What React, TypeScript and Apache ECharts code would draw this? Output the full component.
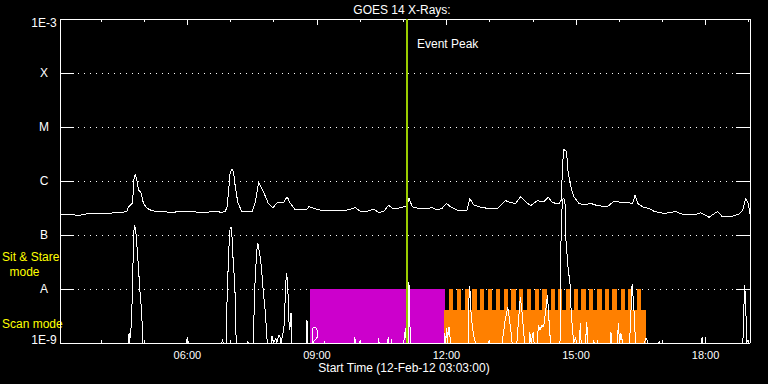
import React, { useEffect, useRef } from 'react';
import * as echarts from 'echarts';

// ---- Data ----
const START_HOUR = 3.05; // 03:03
const END_HOUR = 19.03;
const majorHours = [6, 9, 12, 15, 18];
const minorHours = [4, 5, 6, 7, 8, 9, 10, 11, 12, 13, 14, 15, 16, 17, 18, 19];
const yTickLabels = ['1E-9', 'A', 'B', 'C', 'M', 'X', '1E-3'];
const Y_MIN = 1e-9;
const Y_MAX = 1e-3;

// GOES long channel (upper curve)
const longTimes = [3.07, 3.40, 3.47, 3.71, 4.09, 4.48, 4.60, 4.63, 4.73, 4.76, 4.79, 4.83, 4.87, 4.93, 4.98, 5.06, 5.18, 5.33, 5.64, 5.99,
  6.18, 6.41, 6.64, 6.80, 6.88, 6.92, 6.95, 6.99, 7.03, 7.07, 7.11, 7.17, 7.26, 7.50, 7.57, 7.65, 7.76, 7.87, 7.98, 8.07,
  8.23, 8.31, 8.38, 8.50, 8.62, 8.77, 8.81, 8.92, 9.08, 9.23, 9.47, 9.70, 9.89, 10.01, 10.16, 10.31, 10.43, 10.55, 10.66, 10.74,
  10.89, 11.09, 11.13, 11.21, 11.40, 11.67, 11.78, 11.90, 12.00, 12.09, 12.25, 12.48, 12.54, 12.63, 12.79, 12.94, 13.18, 13.28, 13.37, 13.48,
  13.60, 13.72, 13.83, 13.95, 14.10, 14.26, 14.36, 14.45, 14.60, 14.66, 14.69, 14.72, 14.78, 14.82, 14.88, 14.95, 15.07, 15.18, 15.34, 15.50,
  15.73, 15.88, 16.04, 16.23, 16.31, 16.37, 16.44, 16.58, 16.69, 16.81, 17.04, 17.31, 17.50, 17.74, 17.89, 18.08, 18.28, 18.39, 18.59, 18.78,
  18.86, 18.93, 18.99, 19.03];
const longFlux = [2.35e-7, 2.35e-7, 2.3e-7, 2.5e-7, 2.5e-7, 2.63e-7, 2.73e-7, 3.26e-7, 3.92e-7, 1.04e-6, 1.35e-6, 1.04e-6, 6.81e-7, 6.0e-7, 3.92e-7, 3.16e-7, 2.8e-7, 2.73e-7, 2.63e-7, 2.78e-7,
  2.67e-7, 2.63e-7, 2.73e-7, 2.63e-7, 2.78e-7, 3.34e-7, 6.0e-7, 1.41e-6, 1.67e-6, 1.49e-6, 7.74e-7, 3.92e-7, 2.73e-7, 2.73e-7, 3.92e-7, 9.6e-7, 6.34e-7, 3.92e-7, 3.16e-7, 3.92e-7,
  4.03e-7, 5.1e-7, 3.92e-7, 2.9e-7, 3.0e-7, 3.0e-7, 3.34e-7, 3.13e-7, 2.9e-7, 2.78e-7, 2.82e-7, 2.9e-7, 3.2e-7, 2.73e-7, 2.73e-7, 3.0e-7, 2.63e-7, 2.73e-7, 3.6e-7, 3.13e-7,
  3.13e-7, 3.44e-7, 4.78e-7, 3.34e-7, 3.03e-7, 3.2e-7, 2.9e-7, 3.13e-7, 3.85e-7, 3.34e-7, 2.9e-7, 2.9e-7, 4.78e-7, 3.6e-7, 3.26e-7, 3.13e-7, 3.03e-7, 3.75e-7, 4.32e-7, 4.0e-7,
  3.85e-7, 5.1e-7, 4.14e-7, 3.49e-7, 4.32e-7, 4.14e-7, 4.99e-7, 4.0e-7, 3.75e-7, 4.45e-7, 2.13e-6, 3.86e-6, 3.49e-6, 1.39e-6, 7.84e-7, 5.1e-7, 3.85e-7, 3.6e-7, 3.85e-7, 3.49e-7,
  3.34e-7, 4.26e-7, 4.0e-7, 4.0e-7, 3.75e-7, 5.5e-7, 3.75e-7, 3.2e-7, 3.13e-7, 2.73e-7, 2.5e-7, 2.73e-7, 2.35e-7, 2.35e-7, 2.58e-7, 2.13e-7, 2.73e-7, 2.18e-7, 2.2e-7, 2.45e-7,
  2.9e-7, 4.78e-7, 3.85e-7, 2.45e-7];

// GOES short channel (lower curve)
const shortTimes = [3.05, 4.63, 4.65, 4.66, 4.70, 4.73, 4.75, 4.77, 4.80, 4.83, 4.86, 4.90, 4.94, 4.96, 4.97, 5.98, 6.00, 6.02, 6.80, 6.81,
  6.83, 6.90, 6.91, 6.94, 6.97, 6.99, 7.01, 7.03, 7.05, 7.08, 7.11, 7.13, 7.38, 7.39, 7.41, 7.53, 7.54, 7.57, 7.61, 7.63,
  7.66, 7.68, 7.72, 7.76, 7.80, 7.82, 7.85, 7.95, 7.96, 7.99, 8.05, 8.07, 8.12, 8.15, 8.17, 8.22, 8.25, 8.27, 8.30, 8.32,
  8.34, 8.36, 8.38, 8.40, 8.42, 8.76, 8.77, 8.79, 8.90, 8.89, 8.91, 8.96, 9.02, 9.01, 8.96, 8.93, 8.92, 9.17, 9.18, 9.19,
  9.87, 9.88, 9.89, 9.99, 10.00, 10.01, 10.42, 10.43, 10.44, 10.64, 10.65, 10.66, 10.72, 10.73, 10.74, 11.01, 11.05, 11.07, 11.12, 11.13,
  11.15, 11.16, 11.95, 11.96, 11.98, 12.01, 12.02, 12.05, 12.07, 12.09, 12.51, 12.52, 12.54, 12.57, 12.60, 12.63, 12.67, 12.98, 12.99, 13.00,
  13.29, 13.36, 13.42, 13.46, 13.49, 13.52, 13.63, 13.67, 13.71, 13.75, 13.79, 13.81, 13.92, 13.93, 13.96, 14.01, 14.03, 14.10, 14.13, 14.17,
  14.21, 14.25, 14.31, 14.34, 14.37, 14.41, 14.63, 14.64, 14.66, 14.69, 14.72, 14.75, 14.76, 14.78, 14.82, 14.86, 14.89, 14.92, 14.95, 14.99,
  15.01, 15.08, 15.10, 15.12, 15.22, 15.25, 15.27, 15.40, 15.41, 15.42, 15.49, 15.50, 15.51, 15.80, 15.81, 15.82, 15.96, 15.98, 16.01, 16.04,
  16.08, 16.24, 16.26, 16.30, 16.34, 16.37, 16.39, 16.59, 16.61, 16.64, 16.66, 16.92, 16.93, 16.94, 17.91, 17.92, 17.93, 18.86, 18.88, 18.90,
  18.92, 18.94, 18.95, 18.99, 19.01, 19.03];
const shortFlux = [1e-9, 1e-9, 1.53e-9, 1e-9, 2.06e-9, 9.57e-9, 8.07e-8, 1.53e-7, 1.35e-7, 6.53e-8, 3.03e-8, 9.57e-9, 3.75e-9, 1.74e-9, 1e-9, 1e-9, 1.29e-9, 1e-9, 1e-9, 1.19e-9,
  1e-9, 1e-9, 3.6e-9, 1.98e-8, 8.07e-8, 1.35e-7, 1.41e-7, 1.09e-7, 4.64e-8, 1.98e-8, 6.81e-9, 1e-9, 1e-9, 1.09e-9, 1e-9, 1e-9, 2.67e-9, 1.6e-8, 5.28e-8, 7.11e-8,
  5.28e-8, 4.26e-8, 2.25e-8, 8.8e-9, 4.08e-9, 2.45e-9, 1e-9, 1e-9, 1.35e-9, 1e-9, 1.24e-9, 1e-9, 1.41e-9, 1.29e-9, 1e-9, 1.6e-9, 2.45e-9, 1.09e-8, 1.98e-8, 1.29e-8,
  5.5e-9, 1.74e-9, 2.06e-9, 3.6e-9, 1e-9, 1e-9, 2.67e-9, 1e-9, 1e-9, 1.41e-9, 1.9e-9, 1.98e-9, 1.67e-9, 1.29e-9, 1.14e-9, 1.1e-9, 1e-9, 1e-9, 1.07e-9, 1e-9,
  1e-9, 1.27e-9, 1e-9, 1e-9, 1.14e-9, 1e-9, 1e-9, 1.24e-9, 1e-9, 1e-9, 1.27e-9, 1e-9, 1e-9, 1.19e-9, 1e-9, 1e-9, 1.9e-9, 1e-9, 1e-9, 1.35e-8,
  6.25e-9, 1e-9, 1e-9, 1.53e-9, 1e-9, 1.9e-9, 1e-9, 1.9e-9, 1.98e-9, 1e-9, 1e-9, 6.25e-9, 1.14e-8, 3.6e-9, 1.98e-9, 1.41e-9, 1e-9, 1e-9, 1.14e-9, 1e-9,
  1e-9, 2.67e-9, 4.64e-9, 2.67e-9, 1.74e-9, 1e-9, 1e-9, 2.67e-9, 7.11e-9, 3.75e-9, 1.53e-9, 1e-9, 1e-9, 1.6e-9, 1e-9, 1.6e-9, 1e-9, 1e-9, 2.15e-9, 1.74e-9,
  2.15e-9, 1.98e-9, 4.64e-9, 7.74e-9, 3.03e-9, 1e-9, 1e-9, 1.29e-8, 1.9e-7, 4.45e-7, 4.84e-7, 3.6e-7, 9.3e-8, 6.0e-8, 2.25e-8, 1.35e-8, 3.6e-9, 1.74e-9, 1e-9, 1.29e-9,
  1e-9, 1e-9, 2.35e-9, 1e-9, 1e-9, 2.45e-9, 1e-9, 1e-9, 1.14e-9, 1e-9, 1e-9, 1.14e-9, 1e-9, 1e-9, 1.6e-9, 1e-9, 1e-9, 2.35e-9, 1e-9, 1.53e-9,
  1e-9, 1e-9, 2.15e-9, 1.24e-8, 4.64e-9, 1.41e-9, 1e-9, 1e-9, 1.19e-9, 1.19e-9, 1e-9, 1e-9, 1.09e-9, 1e-9, 1e-9, 1.27e-9, 1e-9, 1e-9, 1.74e-9, 1.19e-8,
  8.43e-9, 2.8e-9, 1e-9, 1.14e-9, 1e-9, 1e-9];

const eventPeakHour = 11.09;

// Instrument mode bands
const sitStareSpan = [8.847, 11.955];
const scanSpan = [11.954, 16.615];
const scanLevel = 4.08e-9;
const modeTop = 1e-8;
const stripeStarts = [12.054, 12.233, 12.419, 12.597, 12.773, 12.958, 13.137, 13.330, 13.501, 13.677, 13.856, 14.041, 14.220,
  14.412, 14.581, 14.760, 14.953, 15.124, 15.300, 15.495, 15.664, 15.843, 16.035, 16.205, 16.407];
const stripeWidth = 0.10;

const FONT = '"Liberation Sans", Arial, sans-serif';
const WHITE = '#ffffff';
const MAGENTA = '#cc00cc';
const ORANGE = '#ff8000';
const GREEN = '#9acd00';
const YELLOW = '#ffff00';

function rectRenderer(color: string) {
  return (_params: any, api: any) => {
    const p0 = api.coord([api.value(0), api.value(3)]);
    const p1 = api.coord([api.value(1), api.value(2)]);
    return {
      type: 'rect',
      shape: { x: p0[0], y: p0[1], width: p1[0] - p0[0], height: p1[1] - p0[1] },
      style: { fill: color },
    };
  };
}

export default function App() {
  const ref = useRef<HTMLDivElement>(null);

  useEffect(() => {
    const chart = echarts.init(ref.current as HTMLDivElement, null, { renderer: 'svg' });
    const gridRect = { left: 60, top: 19, width: 690, height: 324 };
    const axisLine = { show: true, onZero: false, lineStyle: { color: WHITE, width: 1 } };
    const xBase: any = {
      type: 'value',
      min: START_HOUR,
      max: END_HOUR,
      splitLine: { show: false },
      axisLine,
    };
    const tick = (vals: number[], len: number) => ({
      show: true, inside: true, length: len, customValues: vals, lineStyle: { color: WHITE, width: 1 },
    });

    const longData = longTimes.map((t, i) => [t, longFlux[i]]);
    const shortData = shortTimes.map((t, i) => [t, shortFlux[i]]);
    const orangeRects = [[scanSpan[0], scanSpan[1], Y_MIN, scanLevel]].concat(
      stripeStarts.map((s) => [s, s + stripeWidth, Y_MIN, modeTop])
    );

    const textStyle = (fill: string) => ({ fill, font: `12px ${FONT}` });

    chart.setOption({
      animation: false,
      backgroundColor: '#000000',
      grid: [{ ...gridRect }, { ...gridRect }],
      xAxis: [
        {
          ...xBase, gridIndex: 0, position: 'bottom',
          axisTick: tick(majorHours, 6),
          axisLabel: {
            show: true, customValues: majorHours, color: WHITE, fontFamily: FONT, fontSize: 11, margin: 6,
            formatter: (v: number) => String(Math.round(v)).padStart(2, '0') + ':00',
          },
        },
        { ...xBase, gridIndex: 0, position: 'top', axisTick: tick(majorHours, 6), axisLabel: { show: false } },
        { ...xBase, gridIndex: 1, position: 'bottom', axisLine: { show: false, onZero: false }, axisTick: tick(minorHours, 3), axisLabel: { show: false } },
        { ...xBase, gridIndex: 1, position: 'top', axisLine: { show: false, onZero: false }, axisTick: tick(minorHours, 3), axisLabel: { show: false } },
      ],
      yAxis: [
        {
          type: 'log', logBase: 10, gridIndex: 0, position: 'left', min: Y_MIN, max: Y_MAX,
          axisLine,
          axisTick: { show: true, inside: true, length: 14, lineStyle: { color: WHITE, width: 1 } },
          minorTick: { show: false },
          axisLabel: {
            show: true, color: WHITE, fontFamily: FONT, fontSize: 12, align: 'center', margin: 16,
            formatter: (v: number) => {
              const k = Math.round(Math.log10(v)) + 9;
              const label = yTickLabels[k] ?? '';
              if (k === yTickLabels.length - 1) return `{hi|${label}}`;
              if (k === 0) return `{lo|${label}}`;
              return label;
            },
            rich: {
              hi: { color: WHITE, fontFamily: FONT, fontSize: 12, padding: [8, 0, 0, 0] },
              lo: { color: WHITE, fontFamily: FONT, fontSize: 12, padding: [0, 0, 6, 0] },
            },
          },
          splitLine: { show: true, lineStyle: { color: WHITE, width: 1, type: [1, 5] } },
        },
        {
          type: 'log', logBase: 10, gridIndex: 0, position: 'right', min: Y_MIN, max: Y_MAX,
          axisLine,
          axisTick: { show: true, inside: true, length: 14, lineStyle: { color: WHITE, width: 1 } },
          minorTick: { show: false },
          axisLabel: { show: false },
          splitLine: { show: false },
        },
        { type: 'value', gridIndex: 1, show: false, min: 0, max: 1 },
      ],
      series: [
        {
          type: 'custom', xAxisIndex: 0, yAxisIndex: 0, z: 1, silent: true,
          renderItem: rectRenderer(MAGENTA),
          encode: { x: [0, 1], y: [2, 3] },
          data: [[sitStareSpan[0], sitStareSpan[1], Y_MIN, modeTop]],
        },
        {
          type: 'custom', xAxisIndex: 0, yAxisIndex: 0, z: 1, silent: true,
          renderItem: rectRenderer(ORANGE),
          encode: { x: [0, 1], y: [2, 3] },
          data: orangeRects,
        },
        {
          type: 'line', xAxisIndex: 0, yAxisIndex: 0, z: 3, silent: true,
          symbol: 'none', showSymbol: false,
          lineStyle: { color: WHITE, width: 1 },
          data: longData,
        },
        {
          type: 'line', xAxisIndex: 0, yAxisIndex: 0, z: 3, silent: true,
          symbol: 'none', showSymbol: false,
          lineStyle: { color: WHITE, width: 1 },
          data: shortData,
        },
        {
          type: 'line', xAxisIndex: 0, yAxisIndex: 0, z: 4, silent: true,
          symbol: 'none', showSymbol: false,
          lineStyle: { color: GREEN, width: 2 },
          data: [[eventPeakHour, Y_MIN], [eventPeakHour, Y_MAX]],
        },
      ],
      graphic: [
        { type: 'text', x: 402, y: 10, style: { ...textStyle(WHITE), text: 'GOES 14 X-Rays:', align: 'center', verticalAlign: 'middle' } },
        { type: 'text', x: 404, y: 368, style: { ...textStyle(WHITE), text: 'Start Time (12-Feb-12 03:03:00)', align: 'center', verticalAlign: 'middle' } },
        { type: 'text', x: 417, y: 43.5, z: 10, style: { ...textStyle(WHITE), text: 'Event Peak', align: 'left', verticalAlign: 'middle' } },
        { type: 'text', x: 2, y: 257, style: { ...textStyle(YELLOW), text: 'Sit & Stare', align: 'left', verticalAlign: 'middle' } },
        { type: 'text', x: 24.5, y: 272, style: { ...textStyle(YELLOW), text: 'mode', align: 'center', verticalAlign: 'middle' } },
        { type: 'text', x: 2, y: 323.5, style: { ...textStyle(YELLOW), text: 'Scan mode', align: 'left', verticalAlign: 'middle' } },
      ],
    });

    return () => chart.dispose();
  }, []);

  return (
    <>
      <style>{'.goes-chart svg path { shape-rendering: crispEdges; }'}</style>
      <div
        ref={ref}
        className="goes-chart"
        style={{ position: 'fixed', left: 0, top: 0, width: 768, height: 384, background: '#000000' }}
      />
    </>
  );
}
